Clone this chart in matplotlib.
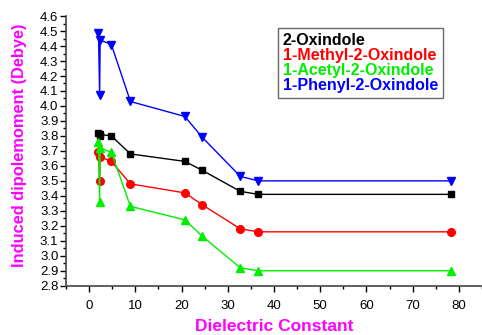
import matplotlib
matplotlib.use('Agg')
import matplotlib.pyplot as plt
from matplotlib.ticker import MultipleLocator

plt.rcParams['font.family'] = ['Liberation Sans', 'DejaVu Sans']

# dielectric constants of the solvents
eps = [2.02, 2.27, 2.38, 4.81, 8.93, 20.7, 24.5, 32.7, 36.6, 78.4]

oxindole = [3.82, 3.80, 3.81, 3.80, 3.68, 3.63, 3.57, 3.43, 3.41, 3.41]
methyl = [3.69, 3.50, 3.66, 3.63, 3.48, 3.42, 3.34, 3.18, 3.16, 3.16]
acetyl = [3.76, 3.36, 3.72, 3.69, 3.33, 3.24, 3.13, 2.92, 2.90, 2.90]
phenyl = [4.49, 4.07, 4.44, 4.41, 4.03, 3.93, 3.79, 3.53, 3.50, 3.50]

names = ['2-Oxindole', '1-Methyl-2-Oxindole', '1-Acetyl-2-Oxindole', '1-Phenyl-2-Oxindole']
colors = ['black', 'red', '#00ee00', 'blue']
markers = ['s', 'o', '^', 'v']
msizes = [5, 5.5, 6, 6]

fig = plt.figure(figsize=(4.82, 3.35), dpi=100)
ax = fig.add_axes([0.137, 0.147, 0.863, 0.805])

for ys, name, c, m, ms in zip([oxindole, methyl, acetyl, phenyl], names, colors, markers, msizes):
    ax.plot(eps, ys, color=c, marker=m, markersize=ms, linewidth=1, label=name)

ax.set_xlim(-5, 85)
ax.set_ylim(2.8, 4.6)
ax.xaxis.set_major_locator(MultipleLocator(10))
ax.xaxis.set_minor_locator(MultipleLocator(5))
ax.yaxis.set_major_locator(MultipleLocator(0.1))
ax.yaxis.set_minor_locator(MultipleLocator(0.05))
ax.tick_params(which='major', direction='out', length=4.5, width=1, labelsize=9.5)
ax.tick_params(which='minor', direction='out', length=2.5, width=1)
ax.tick_params(axis='x', pad=6)
ax.tick_params(axis='y', pad=1)
ax.spines['top'].set_visible(False)
ax.spines['right'].set_visible(False)
ax.spines['left'].set_color('#444444')
ax.spines['bottom'].set_color('#444444')
ax.spines['left'].set_linewidth(1.2)
ax.spines['bottom'].set_linewidth(1.2)

ax.set_xlabel('Dielectric Constant', color='magenta', fontweight='bold', fontsize=12.5, va='center')
ax.xaxis.set_label_coords(0.5, -0.152)
ax.set_ylabel('Induced dipolemoment (Debye)', color='magenta', fontweight='bold', fontsize=11.8, va='center')
ax.yaxis.set_label_coords(-0.113, 0.52)

leg = ax.legend(loc='upper right', bbox_to_anchor=(0.925, 0.985), handlelength=0, handletextpad=0,
                markerscale=0, frameon=True, fancybox=False, edgecolor='#444444',
                prop={'weight': 'bold', 'size': 11.5}, labelspacing=0.0, borderpad=0.3)
for text, c in zip(leg.get_texts(), colors):
    text.set_color(c)
for h in leg.legend_handles:
    h.set_visible(False)

fig.savefig('out.png', dpi=100)
